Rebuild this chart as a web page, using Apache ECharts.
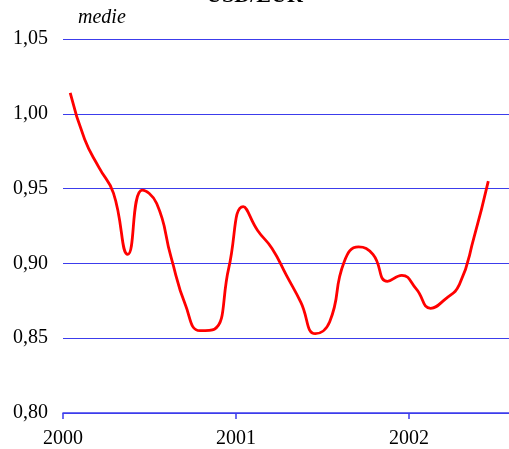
<!DOCTYPE html>
<html>
<head>
<meta charset="utf-8">
<script src="https://cdn.jsdelivr.net/npm/echarts@6/dist/echarts.min.js"></script>
<style>html,body{margin:0;padding:0;background:#fff}#c{width:509px;height:449px}</style>
</head>
<body>
<div id="c"></div>
<script>
const titleText = 'USD/EUR';
const unitLabel = 'medie';
const startYear = 2000;
const months = ['2000-01','2000-02','2000-03','2000-04','2000-05','2000-06','2000-07','2000-08','2000-09','2000-10','2000-11','2000-12',
  '2001-01','2001-02','2001-03','2001-04','2001-05','2001-06','2001-07','2001-08','2001-09','2001-10','2001-11','2001-12',
  '2002-01','2002-02','2002-03','2002-04','2002-05','2002-06'];
const usdEur = [1.014,0.983,0.964,0.947,0.906,0.949,0.940,0.904,0.872,0.855,0.856,0.897,
  0.938,0.922,0.910,0.892,0.874,0.853,0.861,0.901,0.911,0.906,0.888,0.892,
  0.883,0.870,0.876,0.886,0.917,0.955];
const yTicks = [0.80,0.85,0.90,0.95,1.00,1.05];

const seriesData = months.map((m, i) => {
  const [y, mo] = m.split('-').map(Number);
  return [y + (mo - 0.5) / 12, usdEur[i]];
});

const chart = echarts.init(document.getElementById('c'));
const blue = '#3c3cec';
const font = 'Liberation Serif';
chart.setOption({
  animation: false,
  title: {
    text: titleText, left: 'center', top: -20,
    textStyle: {fontFamily: font, fontSize: 22, fontWeight: 'bold', color: '#000'}
  },
  grid: {left: 63, right: 0, top: 39, bottom: 33, containLabel: false},
  xAxis: {
    type: 'value', min: startYear, max: startYear + 446 / 173, interval: 1,
    axisLine: {show: true, lineStyle: {color: blue, width: 1.5}},
    axisTick: {show: true, length: 6, lineStyle: {color: blue, width: 1.5}},
    splitLine: {show: false},
    axisLabel: {
      showMaxLabel: false, margin: 16,
      formatter: v => Number.isInteger(Math.round(v * 1000) / 1000) ? String(Math.round(v)) : '',
      fontFamily: font, fontSize: 20, color: '#000'
    }
  },
  yAxis: {
    type: 'value', min: yTicks[0], max: yTicks[yTicks.length - 1], interval: 0.05,
    name: unitLabel, nameLocation: 'end', nameGap: 11,
    nameTextStyle: {fontFamily: font, fontStyle: 'italic', fontSize: 20, color: '#000', align: 'left', padding: [0, 0, 0, 15]},
    axisLine: {show: false}, axisTick: {show: false},
    splitLine: {show: true, lineStyle: {color: blue, width: 1}},
    axisLabel: {
      margin: 15,
      formatter: v => v.toFixed(2).replace('.', ','),
      fontFamily: font, fontSize: 20, color: '#000'
    }
  },
  series: [{
    type: 'line', data: seriesData, smooth: 0.5, symbol: 'none',
    lineStyle: {color: '#ff0000', width: 2.8}
  }]
});
</script>
</body>
</html>
